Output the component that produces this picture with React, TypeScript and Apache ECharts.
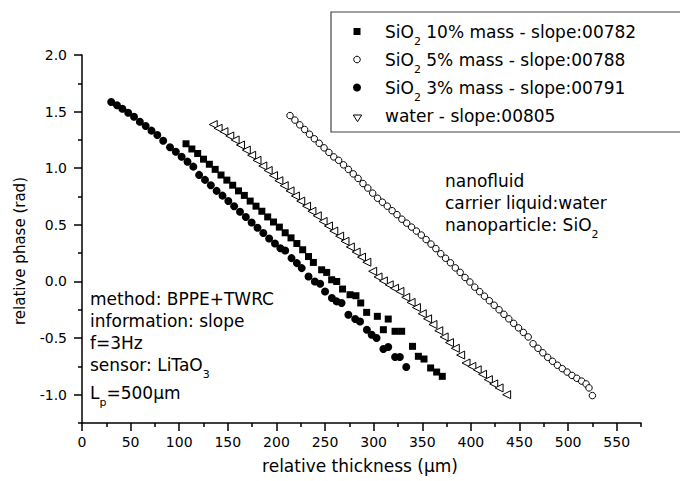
import React, { useEffect, useRef } from 'react';
import * as echarts from 'echarts';

// ---- axis ticks ----
const xMajorTicks = [0, 50, 100, 150, 200, 250, 300, 350, 400, 450, 500, 550];
const xMinorTicks = [25, 75, 125, 175, 225, 275, 325, 375, 425, 475, 525, 575];
const yMajorTicks = [-1, -0.5, 0, 0.5, 1, 1.5, 2];
const yMinorTicks = [-1.25, -0.75, -0.25, 0.25, 0.75, 1.25, 1.75];

// ---- series names ----
const seriesNames = [
  'SiO2 10% mass - slope:00782',
  'SiO2 5% mass - slope:00788',
  'SiO2 3% mass - slope:00791',
  'water - slope:00805',
];

// ---- data: [relative thickness (um), relative phase (rad)] ----
const sio2Mass10: [number, number][] = [
  [107, 1.216], [113, 1.17], [119, 1.13], [125, 1.08], [131, 1.035], [137, 0.99], [143, 0.94],
  [149, 0.895], [155, 0.85], [161, 0.8], [167, 0.76], [173, 0.71], [179, 0.665], [185, 0.62],
  [191, 0.57], [197, 0.525], [203, 0.48], [209, 0.43], [215, 0.385], [221, 0.335], [227, 0.28],
  [233, 0.22], [238, 0.168], [246.5, 0.103], [251.7, 0.08], [256.8, 0.015], [262, 0.0],
  [268, -0.067], [275.7, -0.117], [281.8, -0.126], [286.7, -0.19], [292.8, -0.273],
  [303.8, -0.308], [310, -0.426], [315, -0.332], [322, -0.44], [328.8, -0.44], [340, -0.573],
  [346, -0.661], [351.8, -0.685], [358.6, -0.764], [364.8, -0.8], [370.6, -0.838],
];

const sio2Mass5: [number, number][] = [
  [214, 1.465], [219, 1.425], [224, 1.383], [229, 1.342], [234, 1.3], [239, 1.26], [244, 1.22],
  [249, 1.18], [254, 1.14], [259, 1.1], [264, 1.07], [269, 1.03], [274, 0.99], [279, 0.95],
  [284, 0.91], [289, 0.865], [294, 0.825], [299, 0.78], [304, 0.735], [309, 0.7], [314, 0.665],
  [319, 0.625], [324, 0.59], [329, 0.55], [334, 0.515], [339, 0.48], [344, 0.445], [349, 0.41],
  [354, 0.37], [359, 0.33], [364, 0.29], [369, 0.245], [374, 0.205], [379, 0.165], [384, 0.12],
  [389, 0.08], [394, 0.035], [399, -0.005], [404, -0.05], [409, -0.09], [414, -0.13],
  [419, -0.17], [424, -0.21], [429, -0.25], [434, -0.29], [439, -0.33], [444, -0.37],
  [449, -0.41], [454, -0.45], [459, -0.49], [464, -0.55], [469, -0.59], [474, -0.63],
  [479, -0.67], [484, -0.705], [489, -0.74], [494, -0.77], [499, -0.8], [504, -0.83],
  [509, -0.855], [514, -0.88], [518.5, -0.905], [521.5, -0.94], [525, -1.008],
];

const sio2Mass3: [number, number][] = [
  [30, 1.585], [36, 1.556], [41.5, 1.526], [47.5, 1.49], [53.5, 1.455], [59.5, 1.411],
  [65.5, 1.373], [71.5, 1.332], [77.5, 1.294], [83.5, 1.243], [90.5, 1.185], [96.5, 1.146],
  [102.5, 1.102], [108.5, 1.058], [114.5, 1.014], [120.5, 0.941], [126.5, 0.897], [132.5, 0.85],
  [138.5, 0.8], [144.5, 0.758], [150.5, 0.71], [156.5, 0.664], [162.5, 0.615], [168.5, 0.57],
  [174.5, 0.52], [180.5, 0.475], [186.5, 0.428], [192.5, 0.38], [198.5, 0.335], [204, 0.294],
  [209, 0.273], [215.5, 0.206], [221, 0.162], [226, 0.118], [233, 0.044], [239.5, 0.0],
  [245, -0.02], [250, -0.088], [257, -0.146], [262, -0.176], [267, -0.19], [274, -0.294],
  [281, -0.332], [286, -0.353], [293, -0.426], [298, -0.47], [303, -0.5], [310, -0.596],
  [315, -0.579], [322, -0.667], [327, -0.667], [333.5, -0.755],
];

const water: [number, number][] = [
  [135, 1.386], [140, 1.353], [146, 1.323], [152, 1.285], [157.5, 1.25], [163, 1.205],
  [169, 1.16], [174.5, 1.115], [180, 1.07], [186, 1.02], [191.5, 0.98], [197, 0.935],
  [202.5, 0.89], [208, 0.846], [214, 0.8], [219.5, 0.755], [225, 0.71], [231, 0.665],
  [236.5, 0.62], [242, 0.58], [248, 0.53], [253.5, 0.49], [259, 0.445], [265, 0.4],
  [270.5, 0.355], [276, 0.305], [282, 0.26], [287.5, 0.215], [293, 0.17], [299, 0.09],
  [304.5, 0.04], [310, 0.005], [316, -0.03], [321.5, -0.06], [327, -0.088], [333, -0.14],
  [338.5, -0.185], [344, -0.23], [350, -0.285], [355.5, -0.33], [361, -0.38], [367, -0.435],
  [372.5, -0.49], [378, -0.54], [384, -0.59], [389.5, -0.65], [395, -0.72], [401, -0.75],
  [406.5, -0.78], [412, -0.82], [418, -0.867], [423.5, -0.905], [429, -0.94], [436.8, -1.0],
];

const FONT = "'DejaVu Sans', 'Liberation Sans', sans-serif";

const richStyles = {
  n: { fontSize: 17, fontFamily: FONT, color: '#000', lineHeight: 30 },
  s: { fontSize: 11, fontFamily: FONT, color: '#000', lineHeight: 10, verticalAlign: 'bottom' },
};

function richText(x: number, y: number, text: string) {
  return {
    type: 'text',
    x,
    y,
    silent: true,
    style: {
      text,
      rich: richStyles,
      fill: '#000',
      fontSize: 17,
      fontFamily: FONT,
      align: 'left',
      verticalAlign: 'middle',
      textAlign: 'left',
      textVerticalAlign: 'middle',
    },
  };
}

function plainText(x: number, y: number, text: string, size = 17, rotation = 0, align = 'left') {
  return {
    type: 'text',
    x,
    y,
    rotation,
    silent: true,
    style: {
      text,
      fill: '#000',
      fontSize: size,
      fontFamily: FONT,
      align,
      verticalAlign: 'middle',
      textAlign: align,
      textVerticalAlign: 'middle',
    },
  };
}

export default function App() {
  const ref = useRef<HTMLDivElement>(null);

  useEffect(() => {
    if (!ref.current) return;
    const chart = echarts.init(ref.current, null, { renderer: 'svg' });

    const axisLineStyle = { color: '#000', width: 1.5 };
    const labelStyle = { color: '#000', fontFamily: FONT, fontSize: 14 };

    const option: any = {
      animation: false,
      backgroundColor: '#fff',
      grid: { left: 82, right: 39, top: 55, bottom: 58, containLabel: false },
      xAxis: [
        {
          type: 'value',
          min: 0,
          max: 575,
          position: 'bottom',
          axisLine: { show: true, onZero: false, lineStyle: axisLineStyle },
          axisTick: { show: true, length: 8, customValues: xMajorTicks, lineStyle: axisLineStyle },
          axisLabel: { ...labelStyle, margin: 12, customValues: xMajorTicks, formatter: (v: number) => String(v) },
          splitLine: { show: false },
        },
        {
          type: 'value',
          min: 0,
          max: 575,
          position: 'bottom',
          axisLine: { show: false, onZero: false },
          axisTick: { show: true, length: 4, customValues: xMinorTicks, lineStyle: axisLineStyle },
          axisLabel: { show: false },
          splitLine: { show: false },
        },
      ],
      yAxis: [
        {
          type: 'value',
          min: -1.25,
          max: 2,
          position: 'left',
          axisLine: { show: true, onZero: false, lineStyle: axisLineStyle },
          axisTick: { show: true, length: 8, customValues: yMajorTicks, lineStyle: axisLineStyle },
          axisLabel: { ...labelStyle, margin: 15, customValues: yMajorTicks, formatter: (v: number) => v.toFixed(1) },
          splitLine: { show: false },
        },
        {
          type: 'value',
          min: -1.25,
          max: 2,
          position: 'left',
          axisLine: { show: false, onZero: false },
          axisTick: { show: true, length: 4, customValues: yMinorTicks, lineStyle: axisLineStyle },
          axisLabel: { show: false },
          splitLine: { show: false },
        },
      ],
      series: [
        {
          name: seriesNames[0],
          type: 'scatter',
          data: sio2Mass10,
          symbol: 'rect',
          symbolSize: 7,
          itemStyle: { color: '#000', opacity: 1 },
          silent: true,
        },
        {
          name: seriesNames[1],
          type: 'scatter',
          data: sio2Mass5,
          symbol: 'circle',
          symbolSize: 6.5,
          itemStyle: { color: '#fff', borderColor: '#000', borderWidth: 1, opacity: 1 },
          silent: true,
        },
        {
          name: seriesNames[2],
          type: 'scatter',
          data: sio2Mass3,
          symbol: 'circle',
          symbolSize: 8,
          itemStyle: { color: '#000', opacity: 1 },
          silent: true,
        },
        {
          name: seriesNames[3],
          type: 'scatter',
          data: water,
          symbol: 'triangle',
          symbolSize: 8,
          symbolRotate: 90,
          itemStyle: { color: '#fff', borderColor: '#000', borderWidth: 1, opacity: 1 },
          silent: true,
        },
      ],
      graphic: [
        // legend box
        {
          type: 'rect',
          silent: true,
          shape: { x: 331, y: 12, width: 360, height: 120 },
          style: { fill: 'none', stroke: '#444', lineWidth: 1.2 },
        },
        {
          type: 'rect',
          silent: true,
          shape: { x: 353.5, y: 28, width: 7, height: 7 },
          style: { fill: '#000' },
        },
        {
          type: 'circle',
          silent: true,
          shape: { cx: 357, cy: 59.5, r: 3.3 },
          style: { fill: '#fff', stroke: '#000', lineWidth: 1 },
        },
        {
          type: 'circle',
          silent: true,
          shape: { cx: 357, cy: 87.5, r: 4 },
          style: { fill: '#000' },
        },
        {
          type: 'polygon',
          silent: true,
          shape: { points: [[353.3, 115], [361.7, 115], [357.5, 121.7]] },
          style: { fill: '#fff', stroke: '#000', lineWidth: 1 },
        },
        richText(385, 32, '{n|SiO}{s|2}{n| 10% mass - slope:00782}'),
        richText(385, 60, '{n|SiO}{s|2}{n| 5% mass - slope:00788}'),
        richText(385, 88, '{n|SiO}{s|2}{n| 3% mass - slope:00791}'),
        plainText(385, 115.5, 'water - slope:00805'),
        // right annotation
        plainText(445, 180.5, 'nanofluid'),
        plainText(445, 202.5, 'carrier liquid:water'),
        richText(445, 225.3, '{n|nanoparticle: SiO}{s|2}'),
        // left annotation
        plainText(90, 299, 'method: BPPE+TWRC'),
        plainText(90, 321, 'information: slope'),
        plainText(90, 343, 'f=3Hz'),
        richText(90, 365, '{n|sensor: LiTaO}{s|3}'),
        richText(90, 392.5, '{n|L}{s|p}{n|=500µm}'),
        // axis titles
        plainText(360, 466, 'relative thickness (µm)', 17, 0, 'center'),
        plainText(20, 251, 'relative phase (rad)', 15, Math.PI / 2, 'center'),
      ],
    };

    chart.setOption(option);
    return () => chart.dispose();
  }, []);

  return (
    <div
      ref={ref}
      style={{ position: 'fixed', left: 0, top: 0, width: 680, height: 481, background: '#fff' }}
    />
  );
}
